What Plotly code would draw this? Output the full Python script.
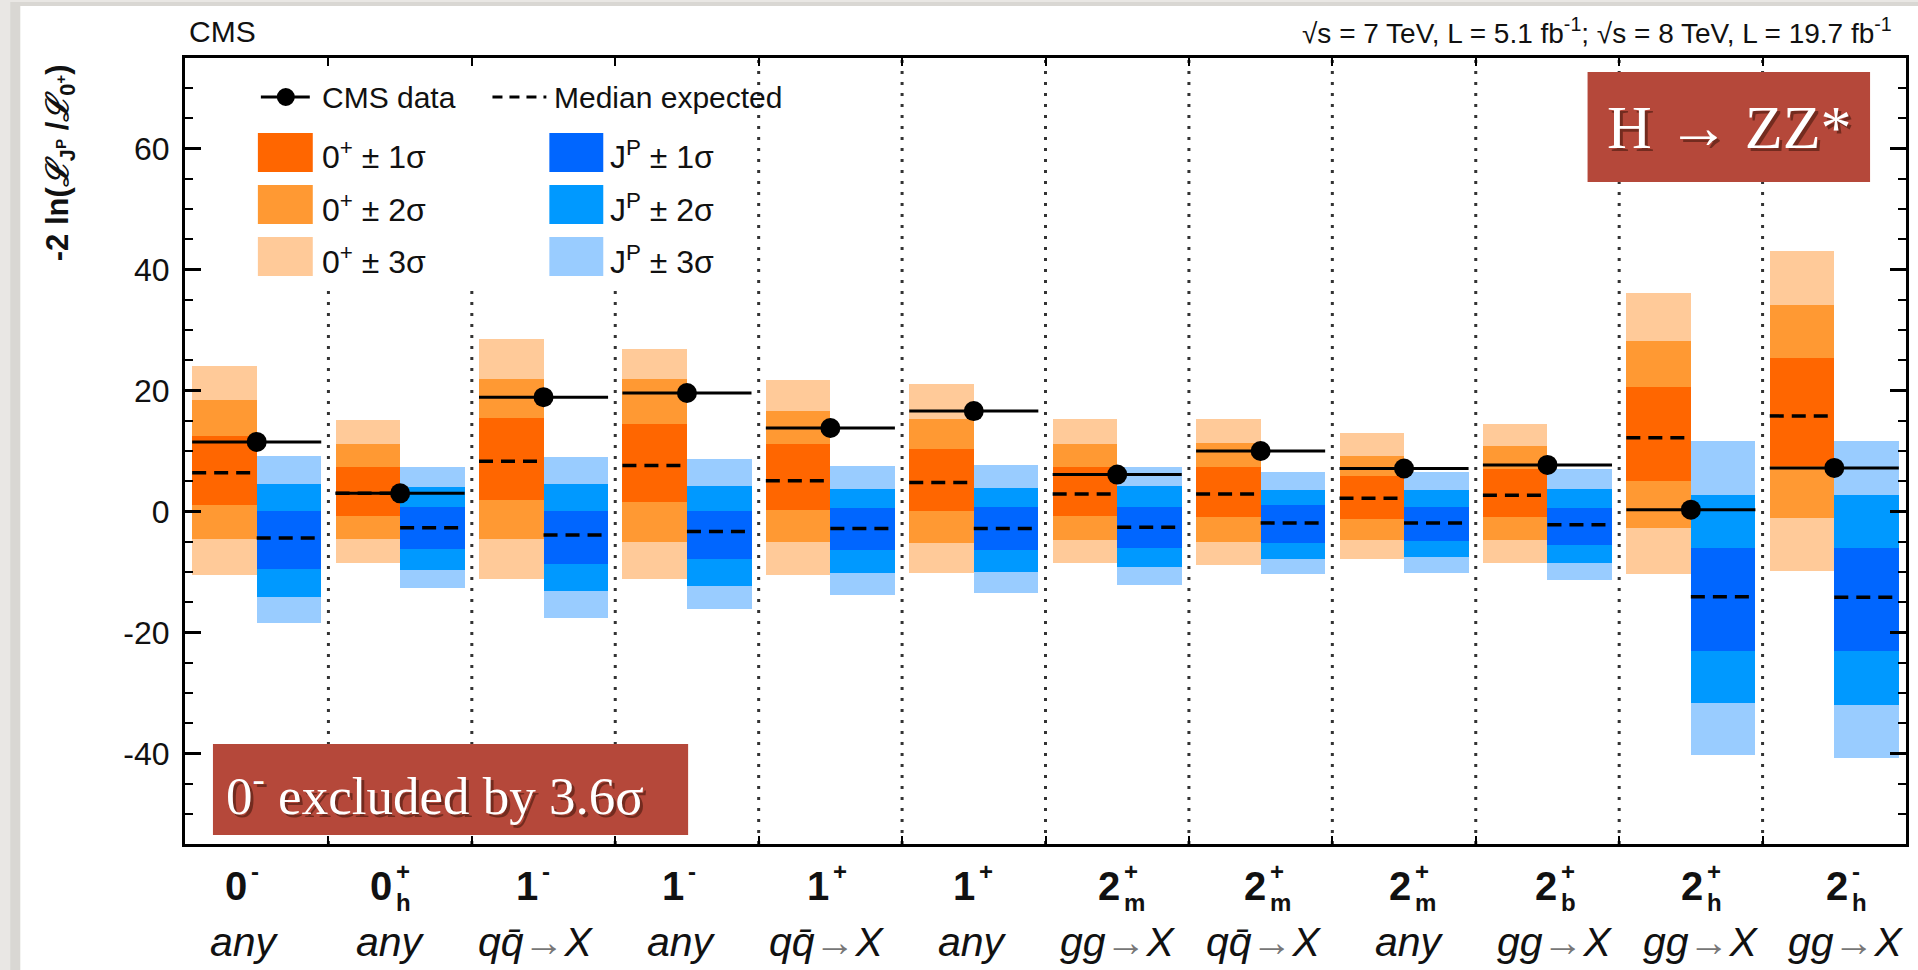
import plotly.graph_objects as go

# ---------------- data ----------------
jp_main = ["0", "0", "1", "1", "1", "1", "2", "2", "2", "2", "2", "2"]
jp_sup = ["-", "+", "-", "-", "+", "+", "+", "+", "+", "+", "+", "-"]
jp_sub = ["", "h", "", "", "", "", "m", "m", "m", "b", "h", "h"]
production = ["any", "any", "qq̄→X", "any", "qq̄→X", "any",
              "gg→X", "qq̄→X", "any", "gg→X", "gg→X", "gg→X"]

obs = [11.5, 3.0, 18.9, 19.6, 13.8, 16.6, 6.1, 10.0, 7.1, 7.7, 0.3, 7.2]

sm_med = [6.4, 3.0, 8.3, 7.6, 5.1, 4.8, 2.9, 2.9, 2.2, 2.7, 12.2, 15.8]
sm_1lo = [1.1, -0.7, 1.9, 1.6, 0.3, 0.1, -0.7, -0.9, -1.2, -0.9, 5.1, 7.6]
sm_1hi = [12.5, 7.3, 15.5, 14.4, 11.2, 10.3, 7.3, 7.3, 5.9, 7.1, 20.6, 25.3]
sm_2lo = [-4.6, -4.6, -4.6, -5.0, -5.0, -5.2, -4.7, -5.0, -4.7, -4.7, -2.8, -1.1]
sm_2hi = [18.4, 11.2, 21.9, 21.9, 16.6, 15.3, 11.2, 11.4, 9.1, 10.8, 28.2, 34.2]
sm_3lo = [-10.5, -8.6, -11.2, -11.2, -10.5, -10.1, -8.6, -8.9, -7.9, -8.6, -10.3, -9.9]
sm_3hi = [24.1, 15.2, 28.6, 26.9, 21.7, 21.0, 15.3, 15.3, 12.9, 14.4, 36.1, 43.1]

alt_med = [-4.4, -2.7, -3.9, -3.3, -2.8, -2.8, -2.6, -1.9, -1.9, -2.2, -14.1, -14.2]
alt_1lo = [-9.5, -6.2, -8.7, -7.9, -6.4, -6.4, -6.0, -5.2, -4.9, -5.5, -23.1, -23.1]
alt_1hi = [0.0, 0.7, 0.0, 0.1, 0.6, 0.7, 0.7, 1.1, 0.7, 0.6, -6.0, -6.0]
alt_2lo = [-14.1, -9.6, -13.1, -12.3, -10.1, -10.0, -9.2, -7.8, -7.5, -8.5, -31.6, -32.0]
alt_2hi = [4.5, 4.1, 4.6, 4.2, 3.7, 3.9, 4.2, 3.6, 3.6, 3.7, 2.8, 2.8]
alt_3lo = [-18.4, -12.7, -17.7, -16.1, -13.8, -13.5, -12.2, -10.4, -10.1, -11.4, -40.2, -40.8]
alt_3hi = [9.1, 7.3, 9.0, 8.6, 7.6, 7.7, 7.3, 6.6, 6.6, 7.0, 11.6, 11.6]

y_ticks = [-40, -20, 0, 20, 40, 60]
y_ticktext = ["-40", "-20", "0", "20", "40", "60"]
y_range = [-55, 75]
legend_top_cut = 37.5   # first three separators stop below the legend

# ---------------- styling ----------------
SANS = "Liberation Sans, Arial, Helvetica, sans-serif"
SERIF = "Liberation Serif, Times New Roman, serif"
OR = ["#ff6600", "#ff9933", "#ffca99"]
BL = ["#0066ff", "#0099ff", "#99ccff"]
W, H = 1918, 970
ML, MR, MT, MB = 185, 9, 58, 126
PW, PH = W - ML - MR, H - MT - MB


def xp(px):
    return (px - ML) / PW


def yp(py):
    return (H - MB - py) / PH


n = len(obs)
xs = list(range(n))
bw = 0.45

fig = go.Figure()

# bands (3 sigma first, then 2, then 1)
bands_sm = [(sm_3lo, sm_3hi, OR[2]), (sm_2lo, sm_2hi, OR[1]), (sm_1lo, sm_1hi, OR[0])]
bands_alt = [(alt_3lo, alt_3hi, BL[2]), (alt_2lo, alt_2hi, BL[1]), (alt_1lo, alt_1hi, BL[0])]
for lo, hi, col in bands_sm:
    fig.add_trace(go.Bar(x=[i - bw / 2 for i in xs], base=lo,
                         y=[h - l for l, h in zip(lo, hi)], width=bw,
                         marker=dict(color=col, line=dict(width=0)),
                         showlegend=False, hoverinfo="skip"))
for lo, hi, col in bands_alt:
    fig.add_trace(go.Bar(x=[i + bw / 2 for i in xs], base=lo,
                         y=[h - l for l, h in zip(lo, hi)], width=bw,
                         marker=dict(color=col, line=dict(width=0)),
                         showlegend=False, hoverinfo="skip"))

# separators (dotted)
sx, sy = [], []
for k in range(n - 1):
    b = k + 0.5
    top = legend_top_cut if k < 3 else y_range[1]
    sx += [b, b, None]
    sy += [y_range[0], top, None]
fig.add_trace(go.Scatter(x=sx, y=sy, mode="lines",
                         line=dict(color="#333333", width=3, dash="3px,8px"),
                         showlegend=False, hoverinfo="skip"))

# medians
mx, my = [], []
for i in xs:
    mx += [i - bw, i, None, i, i + bw, None]
    my += [sm_med[i], sm_med[i], None, alt_med[i], alt_med[i], None]
fig.add_trace(go.Scatter(x=mx, y=my, mode="lines",
                         line=dict(color="black", width=3.5, dash="14px,8px"),
                         showlegend=False, hoverinfo="skip"))

# observed
ox, oy = [], []
for i in xs:
    ox += [i - bw, i + bw, None]
    oy += [obs[i], obs[i], None]
fig.add_trace(go.Scatter(x=ox, y=oy, mode="lines",
                         line=dict(color="black", width=3),
                         showlegend=False, hoverinfo="skip"))
fig.add_trace(go.Scatter(x=xs, y=obs, mode="markers",
                         marker=dict(color="black", size=20),
                         showlegend=False, hoverinfo="skip"))

shapes = []
ann = []

# background card
shapes.append(dict(type="rect", xref="paper", yref="paper", layer="below",
                   x0=xp(10), x1=xp(W + 20), y0=yp(H + 20), y1=yp(2),
                   fillcolor="#d9d7d3", line=dict(width=0)))
shapes.append(dict(type="rect", xref="paper", yref="paper", layer="below",
                   x0=xp(20), x1=xp(W + 20), y0=yp(H + 20), y1=yp(6),
                   fillcolor="white", line=dict(width=0)))

# legend
ly = 97
shapes.append(dict(type="line", xref="paper", yref="paper",
                   x0=xp(261), x1=xp(310), y0=yp(ly), y1=yp(ly),
                   line=dict(color="black", width=3)))
shapes.append(dict(type="circle", xref="paper", yref="paper",
                   xsizemode="pixel", ysizemode="pixel",
                   xanchor=xp(286), yanchor=yp(ly), x0=-9, x1=9, y0=-9, y1=9,
                   fillcolor="black", line=dict(width=0)))
shapes.append(dict(type="line", xref="paper", yref="paper",
                   x0=xp(493), x1=xp(547), y0=yp(ly), y1=yp(ly),
                   line=dict(color="black", width=3, dash="10px,7px")))
ann.append(dict(xref="paper", yref="paper", x=xp(320), y=yp(ly), xanchor="left",
                yanchor="middle", text="CMS data", showarrow=False,
                font=dict(family=SANS, size=30, color="#111")))
ann.append(dict(xref="paper", yref="paper", x=xp(553), y=yp(ly), xanchor="left",
                yanchor="middle", text="Median expected", showarrow=False,
                font=dict(family=SANS, size=30, color="#111")))
rows = [(133, 172), (185, 224), (237, 276)]
for k, (t, b) in enumerate(rows):
    shapes.append(dict(type="rect", xref="paper", yref="paper",
                       x0=xp(258), x1=xp(313), y0=yp(b), y1=yp(t),
                       fillcolor=OR[k], line=dict(width=0)))
    shapes.append(dict(type="rect", xref="paper", yref="paper",
                       x0=xp(550), x1=xp(604), y0=yp(b), y1=yp(t),
                       fillcolor=BL[k], line=dict(width=0)))
    ann.append(dict(xref="paper", yref="paper", x=xp(320), y=yp((t + b) / 2 + 3),
                    xanchor="left", yanchor="middle", showarrow=False,
                    text=f"0<sup>+</sup> ± {k + 1}σ",
                    font=dict(family=SANS, size=32, color="#111")))
    ann.append(dict(xref="paper", yref="paper", x=xp(609), y=yp((t + b) / 2 + 3),
                    xanchor="left", yanchor="middle", showarrow=False,
                    text=f"J<sup>P</sup> ± {k + 1}σ",
                    font=dict(family=SANS, size=32, color="#111")))

# header texts
ann.append(dict(xref="paper", yref="paper", x=xp(187), y=yp(32), xanchor="left",
                yanchor="middle", text="CMS", showarrow=False,
                font=dict(family=SANS, size=30, color="#111")))
ann.append(dict(xref="paper", yref="paper", x=xp(1897), y=yp(31), xanchor="right",
                yanchor="middle", showarrow=False,
                text="√s = 7 TeV, L = 5.1 fb<sup>-1</sup>; √s = 8 TeV, L = 19.7 fb<sup>-1</sup>",
                font=dict(family=SANS, size=28, color="#111")))

# y title
ann.append(dict(xref="paper", yref="paper", x=xp(60), y=yp(163), textangle=-90,
                xanchor="center", yanchor="middle", showarrow=False,
                text="<b>-2 ln(<i>ℒ</i><sub>J<sup>P</sup></sub> /<i>ℒ</i><sub>0<sup>+</sup></sub>)</b>",
                font=dict(family=SANS, size=31, color="#111")))

# x labels
spread = 1.015
for i in xs:
    lx = 5.5 + (i - 5.5) * spread
    ann.append(dict(xref="x", yref="paper", x=lx, y=yp(886), xanchor="right",
                    yanchor="middle", xshift=4, showarrow=False,
                    text=f"<b>{jp_main[i]}</b>",
                    font=dict(family=SANS, size=40, color="#111")))
    ann.append(dict(xref="x", yref="paper", x=lx, y=yp(871), xanchor="left",
                    yanchor="middle", xshift=4, showarrow=False,
                    text=f"<b>{jp_sup[i]}</b>",
                    font=dict(family=SANS, size=24, color="#111")))
    if jp_sub[i]:
        ann.append(dict(xref="x", yref="paper", x=lx, y=yp(902), xanchor="left",
                        yanchor="middle", xshift=4, showarrow=False,
                        text=f"<b>{jp_sub[i]}</b>",
                        font=dict(family=SANS, size=24, color="#111")))
    txt = production[i].replace("→", "<span style='color:#777'>→</span>")
    ann.append(dict(xref="x", yref="paper", x=lx, y=yp(942), xanchor="center",
                    yanchor="middle", showarrow=False, text=f"<i>{txt}</i>",
                    font=dict(family=SANS, size=41, color="#111")))

# highlight boxes
BOX = "#b5483a"
shapes.append(dict(type="rect", xref="paper", yref="paper", layer="above",
                   x0=xp(1590), x1=xp(1873), y0=yp(182), y1=yp(72),
                   fillcolor=BOX, line=dict(width=0)))
shapes.append(dict(type="rect", xref="paper", yref="paper", layer="above",
                   x0=xp(213), x1=xp(689), y0=yp(835), y1=yp(744),
                   fillcolor=BOX, line=dict(width=0)))
for dx, dy, col in [(3, -3, "rgba(60,20,10,0.55)"), (0, 0, "white")]:
    ann.append(dict(xref="paper", yref="paper", x=xp(1732), y=yp(127),
                    xanchor="center", yanchor="middle", showarrow=False,
                    xshift=dx, yshift=dy, text="H → ZZ*",
                    font=dict(family=SERIF, size=62, color=col)))
    ann.append(dict(xref="paper", yref="paper", x=xp(224), y=yp(792),
                    xanchor="left", yanchor="middle", showarrow=False,
                    xshift=dx, yshift=dy, text="0<sup>-</sup> excluded by 3.6σ",
                    font=dict(family=SERIF, size=53, color=col)))

fig.update_layout(
    width=W, height=H,
    margin=dict(l=ML, r=MR, t=MT, b=MB, pad=0),
    paper_bgcolor="#e9e7e4", plot_bgcolor="white",
    barmode="overlay", bargap=0,
    shapes=shapes, annotations=ann,
    showlegend=False,
)
fig.update_xaxes(range=[-0.5, n - 0.5], showgrid=False, zeroline=False,
                 showline=True, linecolor="black", linewidth=3, mirror="ticks",
                 tickvals=[k + 0.5 for k in range(n - 1)], ticks="inside",
                 ticklen=8, tickwidth=2, tickcolor="black", showticklabels=False)
fig.update_yaxes(range=y_range, showgrid=False, zeroline=False,
                 showline=True, linecolor="black", linewidth=3, mirror="ticks",
                 tickvals=y_ticks, ticktext=y_ticktext, ticks="inside",
                 ticklen=16, tickwidth=2.5,
                 tickcolor="black", ticklabelstandoff=6,
                 tickfont=dict(family=SANS, size=32, color="#111"),
                 minor=dict(tick0=0, dtick=5, ticks="inside", ticklen=8,
                            tickwidth=2, tickcolor="black", showgrid=False))

fig.write_html("out.html")
